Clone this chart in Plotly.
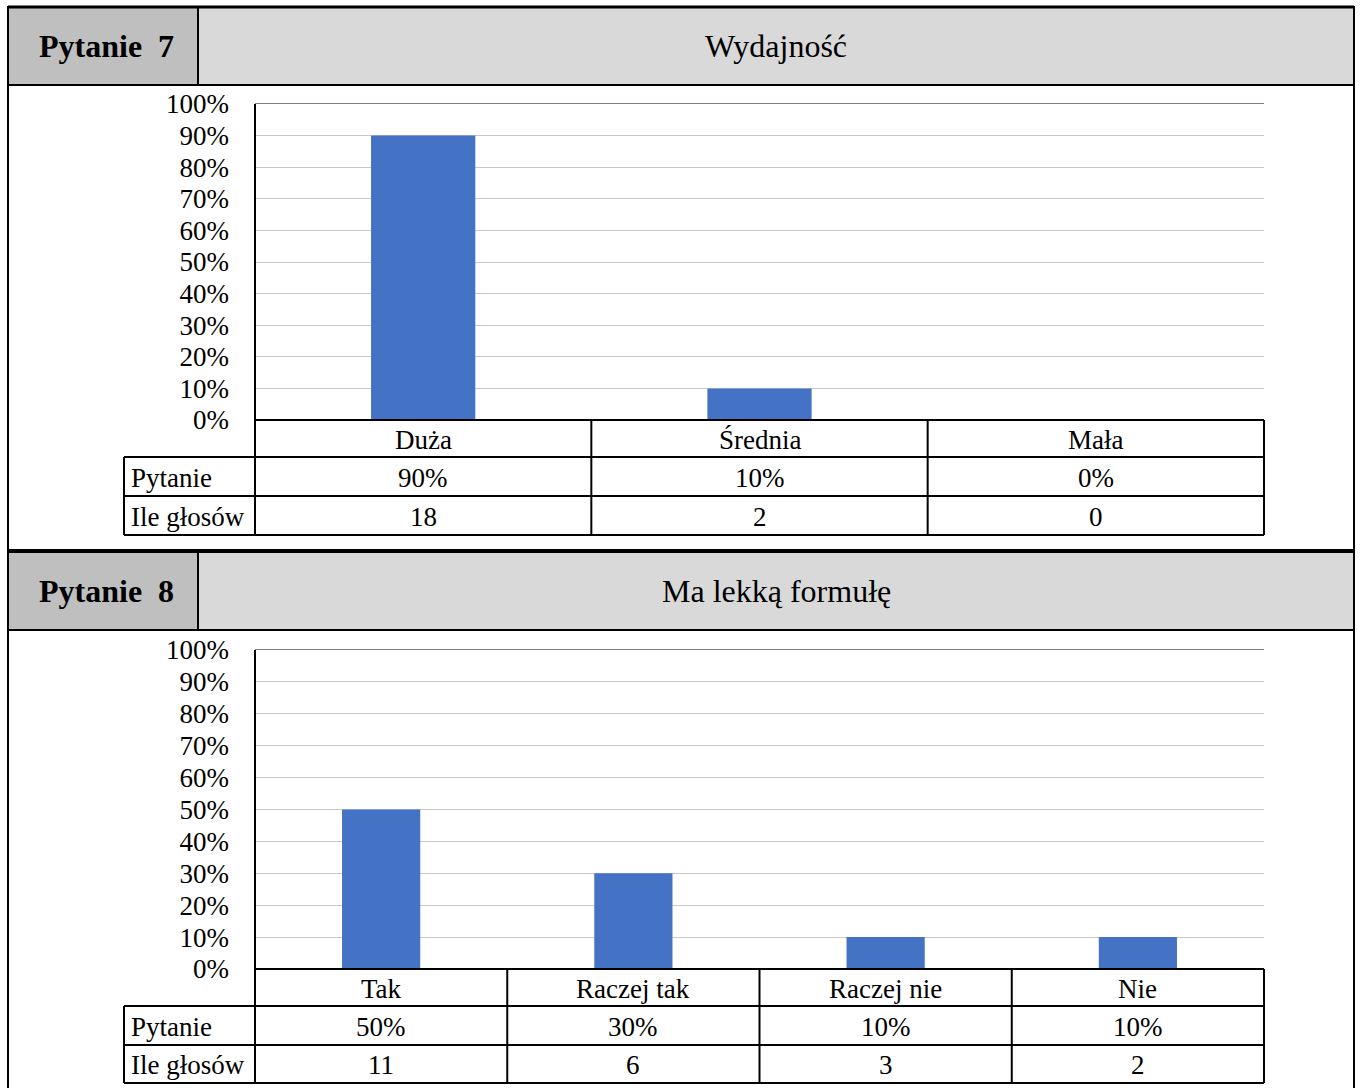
import plotly.graph_objects as go

# ---- data ----
q7_title = "Wydajność"
q7_labels = ["Duża", "Średnia", "Mała"]
q7_pct = [0.90, 0.10, 0.00]
q7_votes = [18, 2, 0]

q8_title = "Ma lekką formułę"
q8_labels = ["Tak", "Raczej tak", "Raczej nie", "Nie"]
q8_pct = [0.50, 0.30, 0.10, 0.10]
q8_votes = [11, 6, 3, 2]

row_names = ["Pytanie", "Ile głosów"]

W, H = 1360, 1088
FONT = "Liberation Serif"
BAR = "#4472C4"


def px(x):
    return x / W


def py(y):
    return 1 - y / H


fig = go.Figure()
shapes = []
annotations = []


def line(x0, y0, x1, y1, color="black", width=2, xref="paper"):
    shapes.append(dict(type="line", xref=xref, yref="paper",
                       x0=x0 if xref != "paper" else px(x0), x1=x1 if xref != "paper" else px(x1),
                       y0=py(y0), y1=py(y1), line=dict(color=color, width=width)))


def text(x, y, s, size=27, bold=False, xanchor="center", xref="paper"):
    annotations.append(dict(x=x if xref != "paper" else px(x), y=py(y), xref=xref, yref="paper",
                            text="<b>%s</b>" % s if bold else s, showarrow=False,
                            xanchor=xanchor, yanchor="middle",
                            font=dict(family=FONT, size=size, color="black")))


def panel(idx, num, title, labels, pct, votes, top, p_top, p_bot, rows):
    # top = header top, p_top / p_bot = plot area, rows = table row lines (pixels)
    xa = "x" if idx == 1 else "x%d" % idx
    ya = "y" if idx == 1 else "y%d" % idx
    n = len(labels)

    # header
    hb = top + 78
    shapes.append(dict(type="rect", xref="paper", yref="paper", x0=px(8), x1=px(198),
                       y0=py(top), y1=py(hb), fillcolor="#BFBFBF", line=dict(width=0), layer="below"))
    shapes.append(dict(type="rect", xref="paper", yref="paper", x0=px(198), x1=px(1354),
                       y0=py(top), y1=py(hb), fillcolor="#D9D9D9", line=dict(width=0), layer="below"))
    line(198, top, 198, hb, width=2)
    line(8, hb, 1354, hb, width=2)
    text(106, top + 39, "Pytanie  %d" % num, size=32, bold=True)
    text(776, top + 39, title, size=32)

    # plot area
    fig.add_trace(go.Bar(x=list(range(n)), y=pct, width=0.31, marker=dict(color=BAR, line=dict(width=0)),
                         xaxis=xa, yaxis=ya, showlegend=False,
                         hovertemplate="%{y:.0%}<extra></extra>"))
    ax = dict(domain=[px(255), px(1264)], range=[-0.5, n - 0.5], showticklabels=False,
              showgrid=False, zeroline=False, showline=True, mirror=True, linecolor="#808080",
              linewidth=1, anchor=ya, fixedrange=True, automargin=False)
    ay = dict(domain=[py(p_bot), py(p_top)], range=[0, 1], dtick=0.1, tickformat=".0%",
              showgrid=True, gridcolor="#C8C8C8", gridwidth=1, zeroline=False,
              tickfont=dict(family=FONT, size=27, color="black"), ticklabelstandoff=25,
              anchor=xa, fixedrange=True, automargin=False)
    fig.update_layout(**{("xaxis" if idx == 1 else "xaxis%d" % idx): ax,
                         ("yaxis" if idx == 1 else "yaxis%d" % idx): ay})

    # data table
    r0, r1, r2, r3 = rows
    line(255, p_top, 255, r3)
    line(255, r0, 1264, r0)
    for r in (r1, r2, r3):
        line(124, r, 1264, r)
    line(124, r1, 124, r3)
    line(1264, r0, 1264, r3)
    for i in range(1, n):
        shapes.append(dict(type="line", xref=xa, yref="paper", x0=i - 0.5, x1=i - 0.5,
                           y0=py(r0), y1=py(r3), line=dict(color="black", width=2)))
    for i in range(n):
        text(i, (r0 + r1) / 2 + 1, labels[i], xref=xa)
        text(i, (r1 + r2) / 2 + 1, "%d%%" % round(pct[i] * 100), xref=xa)
        text(i, (r2 + r3) / 2 + 1, str(votes[i]), xref=xa)
    text(129, (r1 + r2) / 2 + 1, row_names[0], xanchor="left")
    text(129, (r2 + r3) / 2 + 1, row_names[1], xanchor="left")


panel(1, 7, q7_title, q7_labels, q7_pct, q7_votes, 7, 104, 420, (420, 457, 496, 535))
panel(2, 8, q8_title, q8_labels, q8_pct, q8_votes, 552, 650, 969, (969, 1006, 1045, 1083))

# outer frame
line(8, 7, 1354, 7, width=3)
line(8, 6, 8, H, width=2)
line(1354, 6, 1354, H, width=2)
line(8, 551, 1354, 551, width=4)

fig.update_layout(
    width=W, height=H,
    margin=dict(l=0, r=0, t=0, b=0, autoexpand=False),
    paper_bgcolor="white",
    plot_bgcolor="white",
    shapes=shapes,
    annotations=annotations,
    font=dict(family=FONT, color="black"),
)

# pin the graph to the top-left corner of the page
pin = ("document.body.style.margin='0';document.body.style.overflow='hidden';"
       "document.body.style.height='1088px';"
       "var gd=document.getElementsByClassName('plotly-graph-div')[0];"
       "gd.style.position='fixed';gd.style.top='0';gd.style.left='0';")

fig.write_html("out.html", config={"displayModeBar": False}, post_script=pin)
